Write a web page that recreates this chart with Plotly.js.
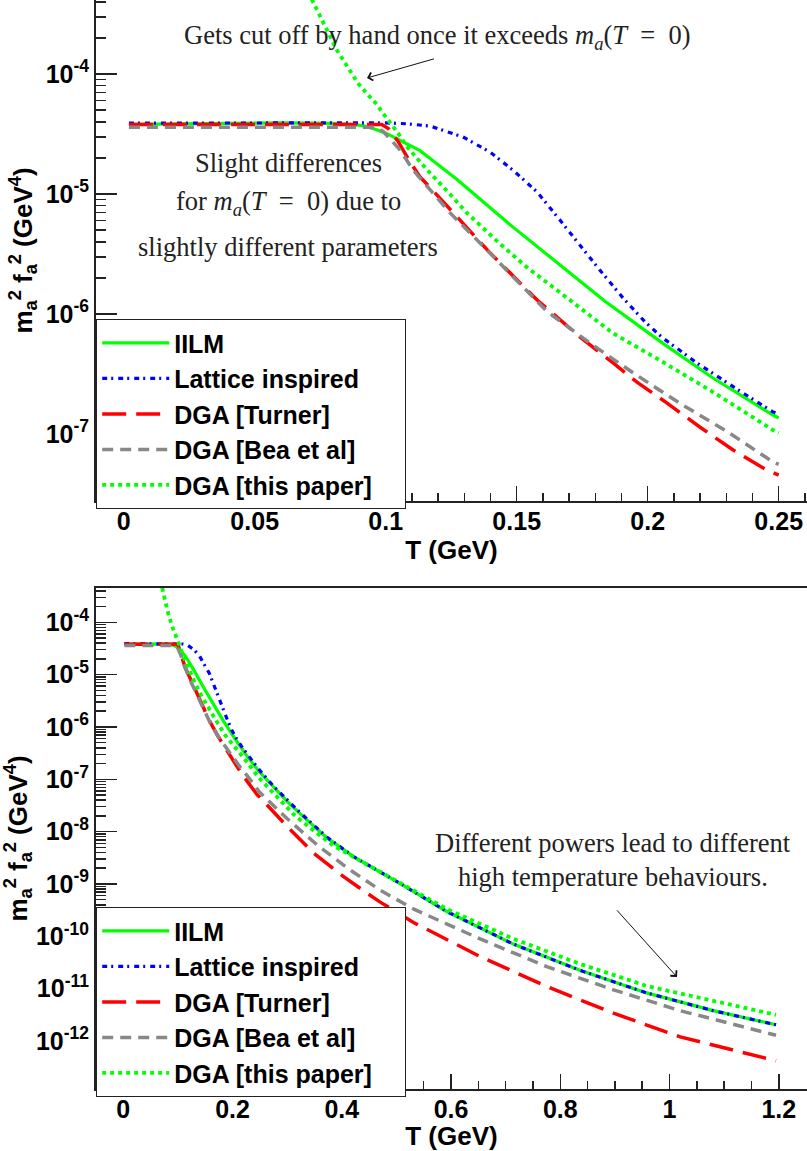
<!DOCTYPE html>
<html>
<head>
<meta charset="utf-8">
<script src="https://cdn.plot.ly/plotly-3.0.1.min.js"></script>
<style>html,body{margin:0;padding:0;background:#fff;}#chart{width:807px;height:1151px;}</style>
</head>
<body>
<div id="chart"></div>
<script>
// ---- Data (T in GeV, m_a^2 f_a^2 in GeV^4) ----
const seriesNames = ["IILM", "Lattice inspired", "DGA [Turner]", "DGA [Bea et al]", "DGA [this paper]"];

const T_IILM = [0.002, 0.02, 0.04, 0.06, 0.08, 0.088, 0.092, 0.096, 0.1003, 0.1067, 0.1131, 0.1194, 0.1271, 0.1486, 0.1677, 0.1837, 0.2058, 0.2249, 0.2478, 0.25,
  0.275, 0.3, 0.324, 0.373, 0.422, 0.47, 0.507, 0.593, 0.714, 0.836, 0.958, 1.08, 1.195];
const V_IILM = [3.81e-5, 3.84e-5, 3.9e-5, 3.92e-5, 3.88e-5, 3.8e-5, 3.68e-5, 3.47e-5, 3.2e-5, 2.73e-5, 2.3e-5, 1.8e-5, 1.33e-5, 5.3e-6, 2.42e-6, 1.28e-6, 5.7e-7, 2.93e-7, 1.44e-7, 1.36e-7,
  7.1e-8, 3.8e-8, 2.19e-8, 7.6e-9, 3.31e-9, 1.7e-9, 1.02e-9, 2.95e-10, 7.1e-11, 2.24e-11, 8.3e-12, 3.8e-12, 2.04e-12];

const T_LAT = [0.002, 0.05, 0.1, 0.108, 0.1169, 0.1295, 0.1398, 0.1486, 0.1578, 0.1665, 0.174, 0.1817, 0.1906, 0.199, 0.2058, 0.2188, 0.2352, 0.2478, 0.25,
  0.275, 0.3, 0.324, 0.373, 0.422, 0.47, 0.507, 0.593, 0.714, 0.836, 0.958, 1.08, 1.195];
const V_LAT = [3.9e-5, 3.92e-5, 3.92e-5, 3.85e-5, 3.69e-5, 2.99e-5, 2.24e-5, 1.58e-5, 1.04e-5, 6.07e-6, 3.76e-6, 2.33e-6, 1.36e-6, 8.58e-7, 6.31e-7, 3.91e-7, 2.28e-7, 1.53e-7, 1.47e-7,
  7.4e-8, 3.98e-8, 2.29e-8, 7.8e-9, 3.31e-9, 1.7e-9, 1.02e-9, 2.95e-10, 7.1e-11, 2.24e-11, 8.3e-12, 3.8e-12, 2.04e-12];

const T_TURNER = [0.002, 0.05, 0.0985, 0.101, 0.1048, 0.1093, 0.1131, 0.1196, 0.1295, 0.1399, 0.1578, 0.1742, 0.1868, 0.1959, 0.2074, 0.22, 0.2326, 0.2455, 0.25,
  0.2997, 0.3484, 0.4033, 0.445, 0.4704, 0.532, 0.6534, 0.7754, 0.8974, 1.0194, 1.195];
const V_TURNER = [3.8e-5, 3.8e-5, 3.8e-5, 3.52e-5, 2.73e-5, 1.85e-5, 1.39e-5, 9.8e-6, 5.73e-6, 3.22e-6, 1.31e-6, 6.43e-7, 3.91e-7, 2.71e-7, 1.81e-7, 1.14e-7, 7.36e-8, 5.0e-8, 4.55e-8,
  1.26e-8, 3.9e-9, 1.38e-9, 6.8e-10, 4.5e-10, 1.82e-10, 4.1e-11, 1.1e-11, 3.4e-12, 1.2e-12, 4.2e-13];

const T_BEA = [0.002, 0.05, 0.0966, 0.0991, 0.1055, 0.1105, 0.1169, 0.1245, 0.136, 0.1486, 0.1616, 0.1791, 0.1944, 0.2123, 0.2303, 0.2478, 0.25,
  0.2997, 0.3546, 0.4095, 0.4704, 0.532, 0.6534, 0.7754, 0.8974, 1.0194, 1.195];
const V_BEA = [3.6e-5, 3.6e-5, 3.6e-5, 3.31e-5, 2.33e-5, 1.58e-5, 1.08e-5, 7.0e-6, 3.91e-6, 2.03e-6, 1.05e-6, 5.5e-7, 3.24e-7, 1.8e-7, 1.05e-7, 5.85e-8, 5.6e-8,
  1.78e-8, 5.6e-9, 2.04e-9, 7.6e-10, 3.3e-10, 8.9e-11, 2.63e-11, 9.5e-12, 3.8e-12, 1.29e-12];

const T_THIS = [0.068, 0.0719, 0.0814, 0.0894, 0.094, 0.0966, 0.099, 0.102, 0.1047, 0.108, 0.1157, 0.1245, 0.131, 0.1425, 0.1539, 0.1654, 0.1868, 0.2058, 0.2249, 0.2478, 0.25,
  0.275, 0.3118, 0.3546, 0.385, 0.428, 0.47, 0.507, 0.593, 0.715, 0.837, 0.959, 1.08, 1.195];
const V_THIS = [6.4e-4, 4.14e-4, 1.58e-4, 8.4e-5, 6.43e-5, 5.6e-5, 4.7e-5, 3.9e-5, 3.22e-5, 2.5e-5, 1.6e-5, 1.0e-5, 6.95e-6, 4.05e-6, 2.45e-6, 1.58e-6, 6.9e-7, 3.98e-7, 2.24e-7, 1.08e-7, 1.02e-7,
  5.25e-8, 2.14e-8, 9.3e-9, 5.4e-9, 3.0e-9, 1.7e-9, 1.02e-9, 3.3e-10, 8.9e-11, 2.95e-11, 1.12e-11, 5.75e-12, 3.16e-12];

const yTickVals = [1e-4, 1e-5, 1e-6, 1e-7, 1e-8, 1e-9, 1e-10, 1e-11, 1e-12];
const yTickText = ["10<sup>-4</sup>", "10<sup>-5</sup>", "10<sup>-6</sup>", "10<sup>-7</sup>", "10<sup>-8</sup>", "10<sup>-9</sup>", "10<sup>-10</sup>", "10<sup>-11</sup>", "10<sup>-12</sup>"];

// ---- styles ----
const styles = [
  {color: "#00ff00", width: 3.2, dash: "solid"},
  {color: "#0000ff", width: 3.2, dash: "5px,4px,2px,5px"},
  {color: "#ff0000", width: 3.5, dash: "24px,10px"},
  {color: "#888888", width: 3.5, dash: "11px,7px"},
  {color: "#00ff00", width: 3.8, dash: "4px,4px"}
];
const allT = [T_IILM, T_LAT, T_TURNER, T_BEA, T_THIS];
const allV = [V_IILM, V_LAT, V_TURNER, V_BEA, V_THIS];
// legend box padding (invisible trailing spaces so the box reaches the reference width)
const legendPad = "&nbsp;&nbsp;&nbsp;&nbsp;";

const traces = [];
for (let i = 0; i < 5; i++) {
  const tt = [], vv = [];
  for (let k = 0; k < allT[i].length; k++) {
    if (allT[i][k] <= 0.2501) { tt.push(allT[i][k]); vv.push(allV[i][k]); }
  }
  traces.push({x: tt, y: vv, type: "scatter", mode: "lines", name: seriesNames[i] + (i === 4 ? legendPad : ""),
    line: styles[i], xaxis: "x", yaxis: "y", legend: "legend", legendgroup: "t" + i, hoverinfo: "skip"});
}
for (let i = 0; i < 5; i++) {
  traces.push({x: allT[i], y: allV[i], type: "scatter", mode: "lines", name: seriesNames[i] + (i === 4 ? legendPad : ""),
    line: styles[i], xaxis: "x2", yaxis: "y2", legend: "legend2", legendgroup: "b" + i, hoverinfo: "skip"});
}

// minor ticks for log axes
const minorVals = [];
for (let e = -14; e <= -3; e++) for (let k = 2; k <= 9; k++) minorVals.push(k * Math.pow(10, e));

const W = 807, H = 1151;
const px = v => v / W;
const py = v => 1 - v / H;

const tickFont = {family: "Liberation Sans, Arial, sans-serif", size: 25, color: "#000", weight: "bold"};
const titleFont = {family: "Liberation Sans, Arial, sans-serif", size: 26, color: "#000", weight: "bold"};
const serif = {family: "Liberation Serif, Times New Roman, serif", size: 26.5, color: "#222"};

function xax(range, dtick, minorD, dom, anchor) {
  return {domain: dom, range: range, anchor: anchor, showgrid: false, zeroline: false,
    showline: true, linecolor: "#222", linewidth: 2, mirror: true,
    tickmode: "linear", tick0: 0, dtick: dtick, ticks: "inside", ticklen: 15, tickwidth: 1.5, tickcolor: "#222",
    minor: {dtick: minorD, tick0: 0, ticks: "inside", ticklen: 8, tickwidth: 1.5, tickcolor: "#222", showgrid: false},
    tickfont: tickFont, automargin: false, ticklabelstandoff: -3,
    title: {text: "T (GeV)", font: titleFont, standoff: 3}};
}
function yax(range, dom, anchor) {
  return {type: "log", domain: dom, range: range, anchor: anchor, showgrid: false, zeroline: false,
    showline: true, linecolor: "#222", linewidth: 2, mirror: false,
    tickmode: "array", tickvals: yTickVals, ticktext: yTickText,
    ticks: "inside", ticklen: 21, tickwidth: 1.5, tickcolor: "#222",
    minor: {tickmode: "array", tickvals: minorVals, ticks: "inside", ticklen: 10, tickwidth: 1.5, tickcolor: "#222", showgrid: false},
    tickfont: tickFont, automargin: false,
    title: {text: "m<sub>a</sub><sup>2</sup> f<sub>a</sub><sup>2</sup> (GeV<sup>4</sup>)", font: titleFont, standoff: 6}};
}

const legendBase = {bgcolor: "#ffffff", bordercolor: "#222", borderwidth: 1.2,
  font: {family: "Liberation Sans, Arial, sans-serif", size: 25, color: "#000", weight: "bold"},
  xanchor: "left", yanchor: "bottom", tracegroupgap: 0, itemwidth: 67, traceorder: "grouped"};

const layout = {
  width: W, height: H, margin: {l: 0, r: 0, t: 0, b: 0},
  paper_bgcolor: "#fff", plot_bgcolor: "#fff", showlegend: true,
  xaxis: xax([-0.01057, 0.2608], 0.05, 0.01, [px(96), 1], "y"),
  yaxis: yax([-7.558, -3.383], [py(501), 1], "x"),
  xaxis2: xax([-0.05, 1.2517], 0.2, 0.05, [px(96), 1], "y2"),
  yaxis2: yax([-12.917, -3.345], [py(1089), py(588)], "x2"),
  legend: Object.assign({}, legendBase, {x: px(96), y: py(509)}),
  legend2: Object.assign({}, legendBase, {x: px(96), y: py(1097)}),
  annotations: [
    {xref: "paper", yref: "paper", x: px(437), y: py(37), xanchor: "center", yanchor: "middle", showarrow: false,
     text: "Gets cut off by hand once it exceeds <i>m</i><sub><i>a</i></sub>(<i>T</i>&nbsp;&nbsp;=&nbsp;&nbsp;0)", font: serif},
    {xref: "paper", yref: "paper", x: px(367), y: py(78), ax: 70, ay: -20, axref: "pixel", ayref: "pixel",
     text: " ", showarrow: true, arrowhead: 4, arrowsize: 1.6, arrowwidth: 1, arrowcolor: "#111"},
    {xref: "paper", yref: "paper", x: px(288), y: py(163), xanchor: "center", yanchor: "middle", showarrow: false,
     text: "Slight differences", font: serif},
    {xref: "paper", yref: "paper", x: px(288), y: py(203), xanchor: "center", yanchor: "middle", showarrow: false,
     text: "for <i>m</i><sub><i>a</i></sub>(<i>T</i>&nbsp;&nbsp;=&nbsp;&nbsp;0) due to", font: serif},
    {xref: "paper", yref: "paper", x: px(288), y: py(247), xanchor: "center", yanchor: "middle", showarrow: false,
     text: "slightly different parameters", font: serif},
    {xref: "paper", yref: "paper", x: px(613), y: py(843), xanchor: "center", yanchor: "middle", showarrow: false,
     text: "Different powers lead to different", font: serif},
    {xref: "paper", yref: "paper", x: px(613), y: py(877), xanchor: "center", yanchor: "middle", showarrow: false,
     text: "high temperature behaviours.", font: serif},
    {xref: "paper", yref: "paper", x: px(677), y: py(977), ax: -63, ay: -70, axref: "pixel", ayref: "pixel",
     text: " ", showarrow: true, arrowhead: 4, arrowsize: 1.6, arrowwidth: 1, arrowcolor: "#111"}
  ]
};

Plotly.newPlot("chart", traces, layout, {staticPlot: true, displayModeBar: false});
</script>
</body>
</html>
